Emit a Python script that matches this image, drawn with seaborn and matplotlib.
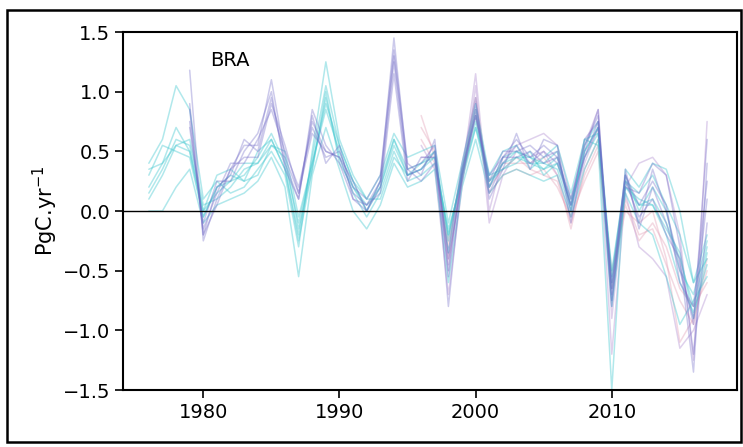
import numpy as np
import pandas as pd
import matplotlib
matplotlib.use("Agg")
import matplotlib.pyplot as plt
from matplotlib.patches import Rectangle
import seaborn as sns

nan = np.nan
years = list(range(1976, 2018))

# ensemble members (PgC/yr), cyan group
cyan_runs = [
    [.15, .35, .60, .55, .00, .15, .25, .30, .45, .65, .40, -.10, .40, .85, .50, .20, .05, .20, .55, .30, .35,
     .45, -.20, .30, .75, .25, .40, .45, .40, .35, .45, .05, .50, .70, -.60, .25, .05, .10, -.10, -.40, -.80, -.30],
    [.20, .40, .70, .50, -.05, .20, .30, .25, .50, .60, .35, -.20, .45, 1.05, .55, .25, .00, .25, .60, .35, .40,
     .50, -.25, .35, .80, .20, .45, .50, .45, .40, .35, .00, .55, .75, -.55, .30, .00, .20, .00, -.50, -.70, -.25],
    [.10, .30, .55, .60, .05, .10, .20, .35, .40, .55, .45, -.15, .35, .95, .45, .15, -.05, .15, .50, .25, .30,
     .40, -.15, .25, .70, .30, .35, .40, .50, .30, .40, .10, .45, .65, -.65, .20, .10, .05, -.15, -.35, -.90, -.35],
    [.40, .60, 1.05, .85, .10, .25, .15, .20, .35, .50, .30, -.30, .50, 1.25, .60, .30, .10, .30, .65, .45, .50,
     .55, -.10, .40, .90, .30, .50, .55, .35, .45, .55, .15, .60, .55, -1.50, .35, .20, .40, .35, .00, -.60, -.40],
    [.00, .00, .20, .35, -.10, .05, .10, .15, .25, .45, .20, -.55, .30, .70, .35, .00, -.15, .05, .40, .20, .25,
     .35, -.60, .20, .60, .15, .30, .35, .30, .25, .30, -.05, .35, .60, -.80, .15, -.10, -.20, -.55, -.95, -.75, -.55],
    [.35, .40, .55, .50, .00, .30, .35, .25, .30, .55, .50, -.05, .40, .90, .55, .25, .10, .10, .45, .30, .40,
     .45, -.20, .30, .70, .20, .40, .50, .40, .40, .50, .00, .60, .65, -.50, .25, .15, .30, .05, -.20, -.60, -.20],
    [.30, .55, .50, .45, -.05, .20, .25, .40, .40, .60, .35, -.25, .35, 1.00, .40, .20, .00, .20, .60, .30, .35,
     .50, -.35, .35, .85, .25, .35, .45, .45, .35, .40, .05, .50, .70, -.75, .20, .05, .05, -.20, -.60, -.85, -.45],
]

# purple group, starts 1979
purple_runs = [
    [nan, nan, nan, 1.18, -.25, .10, .35, .55, .55, 1.10, .45, .15, .75, .50, .45, .15, .05, .25, 1.45, .35, .40,
     .55, -.80, .30, .90, .20, .45, .60, .45, .55, .45, .10, .55, .80, -.65, .30, -.10, .35, .00, -.45, -.95, .60],
    [nan, nan, nan, .85, -.20, .20, .30, .60, .50, .95, .40, .10, .85, .55, .40, .10, .00, .20, 1.25, .30, .35,
     .50, -.40, .25, .85, .15, .40, .55, .40, .50, .40, .05, .60, .75, -.70, .25, -.05, .10, -.20, -.40, -1.35, .40],
    [nan, nan, nan, .75, -.15, .15, .40, .40, .60, .85, .50, .20, .70, .45, .50, .20, .10, .30, 1.35, .40, .30,
     .60, -.55, .30, .80, .25, .50, .50, .55, .45, .50, .00, .45, .70, -.60, .30, .05, .25, .05, -.60, -.80, .25],
    [nan, nan, nan, .70, -.10, .25, .25, .50, .65, 1.00, .35, .10, .80, .40, .55, .10, .05, .15, 1.15, .25, .45,
     .45, -.35, .40, .95, .10, .35, .65, .35, .60, .55, -.10, .50, .85, -.75, .20, .15, .40, .30, -.30, -1.20, -.10],
    [nan, nan, nan, .90, -.20, .05, .35, .45, .45, .90, .55, .15, .65, .50, .45, .25, .00, .25, 1.30, .35, .25,
     .40, -.50, .35, .80, .30, .45, .45, .50, .40, .45, .05, .45, .75, -.80, .35, -.15, .20, -.10, -.50, -.90, .10],
]

# lavender group, starts 1996
lavender_runs = [
    [nan] * 20 + [.55, .35, -.70, .20, 1.05, -.10, .30, .50, .45, .50, .30, -.05, .40, .70, -1.20, .15, -.30,
                  -.40, -.55, -1.15, -1.00, -.70],
    [nan] * 20 + [.45, .45, -.45, .30, 1.15, .00, .45, .55, .60, .65, .55, .10, .55, .85, -.90, .20, .40, .45,
                  .30, -.20, -1.25, .75],
]

# pink group, starts 1996
pink_runs = [
    [nan] * 20 + [.80, .45, -.30, .30, .95, .20, .35, .45, .35, .30, .25, -.10, .30, .55, -.55, .00, -.10, .00,
                  -.40, -1.10, -.90, -.50],
    [nan] * 20 + [.60, .40, -.25, .35, .85, .25, .40, .40, .40, .45, .30, -.15, .35, .60, -.65, .10, -.20, -.15,
                  -.45, -.75, -.95, -.40],
    [nan] * 20 + [.70, .50, -.40, .25, .80, .15, .30, .35, .30, .35, .20, -.05, .25, .50, -.50, .05, -.25, -.10,
                  -.30, -.65, -.80, -.60],
]

sns.set_style("ticks")
plt.rcParams['font.family'] = ['DejaVu Sans']
for key in ["text.color", "axes.labelcolor", "xtick.color", "ytick.color", "axes.edgecolor"]:
    plt.rcParams[key] = "black"

fig = plt.figure(figsize=(7.43, 4.47), dpi=100)
ax = fig.add_axes([0.1655, 0.1275, 0.8265, 0.8009])

groups = [(lavender_runs, "#b99ad6", 0.45), (pink_runs, "#e3a1b8", 0.4),
          (cyan_runs, "#3cc6cf", 0.4), (purple_runs, "#6f68c6", 0.35)]
for runs, col, a in groups:
    for vals in runs:
        df = pd.DataFrame({"year": years, "flux": vals})
        sns.lineplot(data=df, x="year", y="flux", color=col, alpha=a, lw=1.1, ax=ax)

ax.axhline(0, color="black", lw=1)
ax.set_xlim(1974.1, 2019.2)
ax.set_ylim(-1.5, 1.5)
ax.set_xticks([1980, 1990, 2000, 2010])
ax.set_yticks([-1.5, -1.0, -0.5, 0.0, 0.5, 1.0, 1.5])
ax.set_yticklabels(["\u22121.5", "\u22121.0", "\u22120.5", "0.0", "0.5", "1.0", "1.5"])
ax.tick_params(labelsize=14, length=6, width=1.2, pad=3)
ax.set_xlabel("")
ax.set_ylabel("PgC.yr$^{-1}$", fontsize=15, labelpad=2)
for s in ax.spines.values():
    s.set_linewidth(1.5)

ax.text(0.174, 0.92, "BRA", transform=ax.transAxes, fontsize=14, ha="center", va="center")

fig.patches.append(Rectangle((0.0094, 0.011), 0.988, 0.966, transform=fig.transFigure,
                             fill=False, edgecolor="black", lw=1.8))

fig.savefig("out.png", dpi=100)
